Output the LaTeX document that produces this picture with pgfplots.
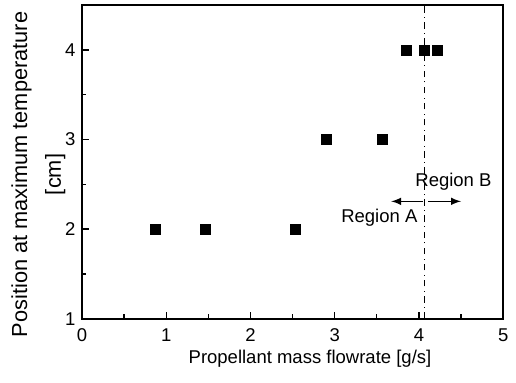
\documentclass[border=0pt]{standalone}
\usepackage{fontspec}
\setmainfont{Liberation Sans}
\usepackage{pgfplots}
\pgfplotsset{compat=1.18}
\begin{document}
\fontsize{8.5}{10}\selectfont
\begin{tikzpicture}
\begin{axis}[
  scale only axis,
  width=193.5pt, height=144pt,
  xmin=0, xmax=5, ymin=1, ymax=4.5,
  xtick={0,1,2,3,4,5}, ytick={1,2,3,4},
  minor xtick={0.5,1.5,2.5,3.5,4.5},
  minor ytick={1.5,2.5,3.5},
  tick align=inside,
  xtick pos=left, ytick pos=left,
  major tick length=3pt, minor tick length=2pt,
  /pgf/number format/assume math mode=true,
  tick label style={font=\fontsize{8.5}{10}\selectfont},
  xticklabel style={yshift=-1.5pt},
  xlabel={Propellant mass flowrate [g/s]},
  xlabel style={font=\fontsize{8.5}{10}\selectfont, yshift=2pt, xshift=8pt},
  ylabel={Position at maximum temperature\\[3.5pt]{[cm]}},
  ylabel style={align=center, font=\fontsize{10}{12}\selectfont, at={(ticklabel cs:0.46)}},
  ylabel shift=-6pt,
  axis line style={line width=0.8pt},
  every tick/.style={black, line width=0.6pt},
]
\addplot[only marks, mark=square*, mark size=2.3pt, black] coordinates {
  (0.87,2) (1.47,2) (2.53,2)
  (2.90,3) (3.57,3)
  (3.85,4) (4.07,4) (4.22,4)
};
\addplot[black, line width=0.4pt, dash dot] coordinates {(4.07,1) (4.07,4.5)};
\addplot[black, line width=0.6pt, -latex] coordinates {(4.05,2.31) (3.67,2.31)};
\addplot[black, line width=0.6pt, -latex] coordinates {(4.11,2.31) (4.50,2.31)};
\node[font=\fontsize{8.5}{10}\selectfont] at (axis cs:4.41,2.53) {Region B};
\node[font=\fontsize{8.5}{10}\selectfont] at (axis cs:3.53,2.13) {Region A};
\end{axis}
\path ([xshift=-2.4pt,yshift=-4pt]current bounding box.south west) rectangle ([xshift=0.7pt,yshift=2pt]current bounding box.north east);
\end{tikzpicture}
\end{document}
